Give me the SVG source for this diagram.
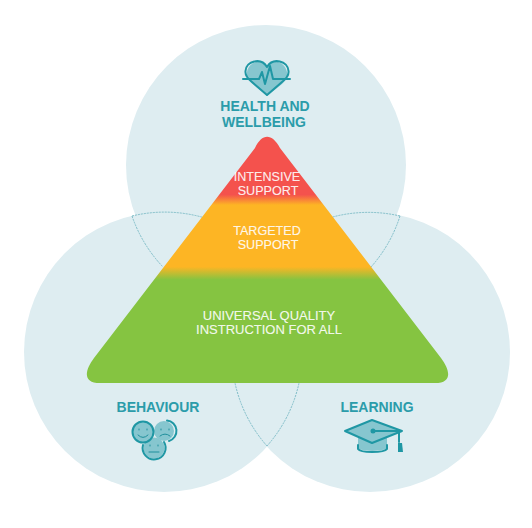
<svg xmlns="http://www.w3.org/2000/svg" width="532" height="528" viewBox="0 0 532 528">
<style>
.c{fill:#deedf1}
.d{fill:none;stroke:#7dbcc7;stroke-width:1;stroke-dasharray:2 1}
text{font-family:"Liberation Sans",Arial,sans-serif;text-anchor:middle}
.t{fill:#2b9caa;font-size:14px;font-weight:700}
.w{fill:#fff;fill-opacity:.9;font-size:13px;stroke:#fff;stroke-width:.2;stroke-opacity:.6}
.s{font-size:12.600px}
.i{fill:none;stroke:#1f97a4;stroke-width:2;stroke-linejoin:round;stroke-linecap:round}
.l{fill:none;stroke:#1f8f9c;stroke-width:1;stroke-linecap:round}
.f{fill:#86c6cf}
</style>
<defs>
<linearGradient id="g" gradientUnits="userSpaceOnUse" x1="0" y1="125" x2="0" y2="383">
<stop offset="0.27" stop-color="#f4524d"/>
<stop offset="0.31" stop-color="#fdb524"/>
<stop offset="0.55" stop-color="#fdb524"/>
<stop offset="0.60" stop-color="#85c441"/>
</linearGradient>
</defs>
<g id="circle-health"><circle class="c" cx="266" cy="165" r="140"/></g>
<g id="circle-behaviour"><circle class="c" cx="164" cy="352" r="140"/></g>
<g id="circle-learning"><circle class="c" cx="370" cy="352" r="140"/></g>
<g id="connectors">
<path class="d" d="M132 216A140 140 0 0 1 205 218"/>
<path class="d" d="M132 216A140 140 0 0 0 163 267"/>
<path class="d" d="M400 216A140 140 0 0 0 329 218"/>
<path class="d" d="M400 216A140 140 0 0 1 371 267"/>
<path class="d" d="M267 446A140 140 0 0 1 235 383"/>
<path class="d" d="M267 446A140 140 0 0 0 299 383"/>
</g>
<g id="pyramid">
<path fill="url(#g)" d="M255 148C262 133 272 133 280 148L441 358C450 370 453 383 435 383L100 383C82 383 85 370 94 358Z"/>
</g>
<g id="node-intensive"><text class="w s" x="267" y="181">INTENSIVE</text><text class="w s" x="268" y="195">SUPPORT</text></g>
<g id="node-targeted"><text class="w s" x="267" y="235">TARGETED</text><text class="w s" x="268" y="249">SUPPORT</text></g>
<g id="node-universal"><text class="w" x="269" y="320">UNIVERSAL QUALITY</text><text class="w" x="269" y="334">INSTRUCTION FOR ALL</text></g>
<g id="node-health">
<path class="f" d="M247 72C249 61 262 58 267 67C272 58 285 61 287 72C288 77 285 81 282 84L267 96L256 87C250 82 246 78 247 72Z"/>
<path class="i" d="M267 95L252 82C247 78 245 75 245.500 71C246 61 261 57 267 67C273 57 288 61 288.500 71C289 75 287 78 282 82Z"/>
<path class="i" d="M243 79H259L262 72L265 84L270 66L273 79H290"/>
<text class="t" x="265" y="111">HEALTH AND</text><text class="t" x="264" y="127">WELLBEING</text>
</g>
<g id="node-behaviour">
<text class="t" x="158" y="412">BEHAVIOUR</text>
<circle class="f" cx="164" cy="431" r="10"/><path class="i" d="M167 420.500A10.500 10.500 0 0 1 169 441"/>
<circle class="f" cx="154" cy="448" r="10.500"/><path class="i" d="M143 445A11.500 11.500 0 1 0 164 442"/>
<circle class="f" cx="143" cy="432" r="10.500" stroke="#1f97a4" stroke-width="2"/>
<path class="l" d="M138 435Q143 440 148 435M139 429V430M147 429V430M160 436Q165 432 170 436M161 429V430M169 429V430M149 452H159M150 445V446M158 445V446"/>
</g>
<g id="node-learning">
<text class="t" x="377" y="412">LEARNING</text>
<path class="f" d="M358 437V449Q372 453 387 449V437L372 443Z"/>
<path class="i" d="M358 445V449Q360 452 372 452Q385 452 387 449V445"/>
<path class="f" d="M345 431L372 420L402 431L372 443Z"/>
<path class="i" d="M345 431L372 420L402 431L372 443Z"/>
<circle cx="373" cy="431" r="2.500" fill="#1f97a4"/>
<path class="i" d="M373 431H399V442"/>
<path d="M398 443H402L403 452H398Z" fill="#1f97a4"/>
</g>
</svg>
